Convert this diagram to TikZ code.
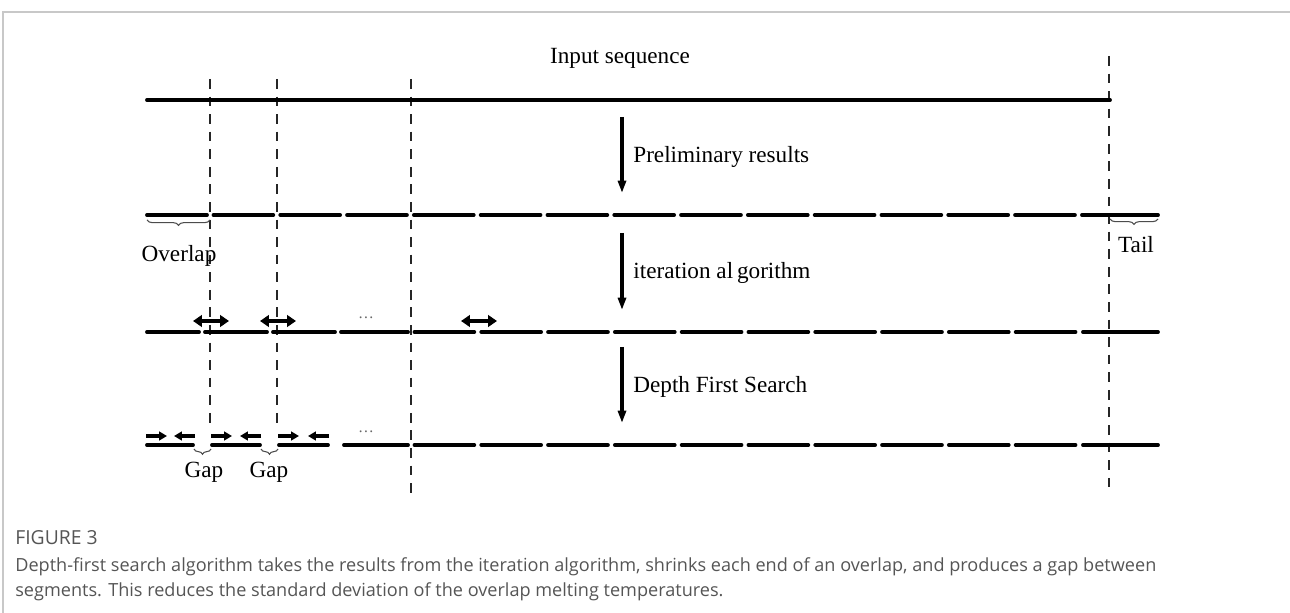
\documentclass[tikz,border=0pt]{standalone}
\usepackage{fontspec}
\setmainfont{Liberation Serif}
\newfontfamily\capfont{Open Sans}
\usetikzlibrary{arrows.meta,decorations.pathreplacing}
\definecolor{capgray}{HTML}{555555}
\definecolor{framegray}{HTML}{C8C8C8}
\begin{document}
\begin{tikzpicture}[
    x=0.2mm, y=-0.2mm,
    seg/.style={line width=2.2pt, line cap=round},
    guide/.style={line width=0.8pt, dash pattern=on 5.5pt off 4.5pt, black!85},
    flow/.style={line width=1.8pt, -{Triangle[length=7pt,width=4.5pt]}},
    movetip/.style={line width=2pt, {Triangle[length=5pt,width=6.5pt]}-{Triangle[length=5pt,width=6.5pt]}},
    pushtip/.style={line width=1.8pt, -{Triangle[length=4.5pt,width=5pt]}},
    gapbrace/.style={decorate, decoration={brace, mirror, amplitude=3pt}, line width=0.6pt, black!70},
    lbl/.style={inner sep=0pt, font=\fontsize{13.2}{15}\selectfont},
    dots/.style={inner sep=0pt, font=\small, black!60},
    caption/.style={inner sep=0pt, anchor=west, text=capgray}
]
\useasboundingbox (0,0) rectangle (1290,613);
% frame of the figure box
\draw[framegray, line width=0.6pt] (3,613) -- (3,12) -- (1290,12);

% guide lines
\draw[guide] (210,79) -- (210,428);
\draw[guide] (277,79) -- (277,428);
\draw[guide] (411,79) -- (411,495);
\draw[guide] (1109,56) -- (1109,495);

% input sequence
\node[lbl] (inseq) at (620,58) {Input sequence};
\draw[seg] (147,100) -- (1110,100);

% preliminary results
\draw[seg] (147,215) -- (207,215);
\foreach \k in {0,...,12}
    \draw[seg] ({210+\k*66.8+3.5},215) -- ({210+(\k+1)*66.8-3.5},215);
\draw[seg] (1082,215) -- (1158,215);
\draw[gapbrace] (147,220) -- (210,220);
\node[lbl] (overlap) at (179,256) {Overlap};
\draw[gapbrace] (1110,219) -- (1158,219);
\node[lbl] (tail) at (1136,245) {Tail};

% after iteration
\draw[seg] (147,332) -- (199,332);
\draw[seg] (205,332) -- (267,332);
\draw[seg] (273,332) -- (335,332);
\draw[seg] (341,332) -- (408,332);
\foreach \k in {0,...,9}
    \draw[seg] ({411+\k*66.8+3.5},332) -- ({411+(\k+1)*66.8-3.5},332);
\draw[seg] (1083,332) -- (1158,332);
\draw[movetip] (193,321) -- (229,321);
\draw[movetip] (260,321) -- (296,321);
\draw[movetip] (461,321) -- (497,321);
\node[dots] (dotsa) at (366,318) {\dots};

% after depth first search
\draw[seg] (147,445) -- (193,445);
\draw[seg] (212,445) -- (260,445);
\draw[seg] (279,445) -- (328,445);
\draw[seg] (344,445) -- (408,445);
\foreach \k in {0,...,9}
    \draw[seg] ({411+\k*66.8+3.5},445) -- ({411+(\k+1)*66.8-3.5},445);
\draw[seg] (1083,445) -- (1158,445);
\draw[pushtip] (146,436) -- (167,436);
\draw[pushtip] (195,436) -- (174,436);
\draw[pushtip] (211,436) -- (232,436);
\draw[pushtip] (261,436) -- (240,436);
\draw[pushtip] (278,436) -- (299,436);
\draw[pushtip] (329,436) -- (308,436);
\node[dots] (dotsb) at (366,432) {\dots};
\draw[gapbrace] (194,449) -- (211,449);
\draw[gapbrace] (261,449) -- (278,449);
\node[lbl] (gapa) at (204,472) {Gap};
\node[lbl] (gapb) at (269,472) {Gap};

% steps
\coordinate (s1) at (622,117);
\coordinate (e1) at (622,193);
\coordinate (s2) at (622,233);
\coordinate (e2) at (622,310);
\coordinate (s3) at (622,347);
\coordinate (e3) at (622,423);
\draw[flow] (s1) -- (e1);
\draw[flow] (s2) -- (e2);
\draw[flow] (s3) -- (e3);
\node[lbl, anchor=west] (prelim) at (633,157) {Preliminary results};
\node[lbl, anchor=west] (iter) at (633,273) {iteration al\,gorithm};
\node[lbl, anchor=west] (dfs) at (633,387) {Depth First Search};

% caption
\node[caption, font=\capfont\fontsize{11}{13}\selectfont] (fig) at (15,538) {FIGURE 3};
\node[caption, font=\capfont\fontsize{10.3}{12}\selectfont] (capa) at (15,567)
    {Depth-first search algorithm takes the results from the iteration algorithm, shrinks each end of an overlap, and produces a gap between};
\node[caption, font=\capfont\fontsize{10.3}{12}\selectfont] (capb) at (15,592)
    {segments. This reduces the standard deviation of the overlap melting temperatures.};
\end{tikzpicture}
\end{document}
